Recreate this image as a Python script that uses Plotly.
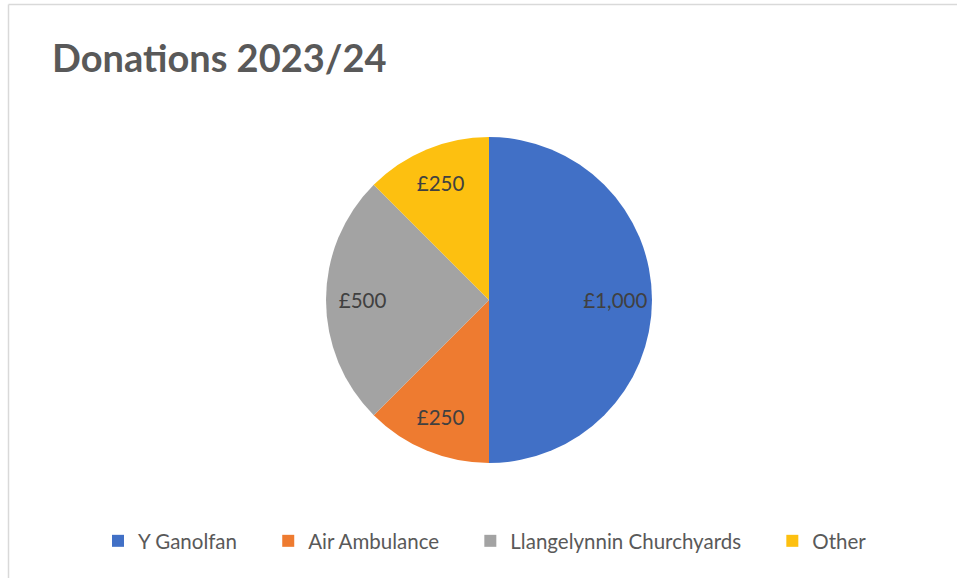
import plotly.graph_objects as go

categories = ["Y Ganolfan", "Air Ambulance", "Llangelynnin Churchyards", "Other"]
values = [1000, 250, 500, 250]
labels_text = ["£1,000", "£250", "£500", "£250"]
colors = ["#4170C6", "#EE7B30", "#A3A3A3", "#FDC010"]

W, H = 957, 578
cx, cy, r = 489, 300, 163
dom = dict(x=[(cx - r) / W, (cx + r) / W], y=[1 - (cy + r) / H, 1 - (cy - r) / H])

# legend labels with trailing padding to mimic Excel legend spacing
pad = "\u00a0" * 5
legend_labels = [c + pad for c in categories[:-1]] + [categories[-1]]

fig = go.Figure()
fig.add_trace(go.Pie(
    labels=legend_labels,
    values=values,
    customdata=categories,
    textinfo="none",
    sort=False,
    direction="clockwise",
    rotation=0,
    marker=dict(colors=colors, line=dict(width=0)),
    domain=dom,
    hovertemplate="%{customdata}: £%{value:,}<extra></extra>",
))
# text overlay: ring so labels sit at ~3/4 of the radius like Excel
fig.add_trace(go.Pie(
    labels=categories,
    values=values,
    text=labels_text,
    textinfo="text",
    textposition="inside",
    insidetextorientation="horizontal",
    hole=0.55,
    sort=False,
    direction="clockwise",
    rotation=0,
    showlegend=False,
    marker=dict(colors=["rgba(0,0,0,0)"] * len(values), line=dict(width=0)),
    textfont=dict(family="Lato", size=20.5, color="#404040"),
    domain=dom,
    hovertemplate="%{label}: £%{value:,}<extra></extra>",
))

fig.update_layout(
    width=W, height=H,
    margin=dict(l=0, r=0, t=0, b=0),
    paper_bgcolor="white",
    plot_bgcolor="white",
    title=dict(text="<b>Donations 2023/24</b>", x=52 / W, xanchor="left", y=1 - 59 / H, yanchor="middle",
               font=dict(family="Lato", size=38, color="#595959")),
    legend=dict(orientation="h", x=485 / W, xanchor="center", y=1 - 541 / H, yanchor="middle",
                font=dict(family="Lato", size=20.5, color="#595959"), itemwidth=30,
                traceorder="normal"),
    shapes=[
        dict(type="line", xref="paper", yref="paper", x0=8.5 / W, x1=1, y0=1 - 4.5 / H, y1=1 - 4.5 / H,
             line=dict(color="#D9D9D9", width=1.5)),
        dict(type="line", xref="paper", yref="paper", x0=8.5 / W, x1=8.5 / W, y0=0, y1=1 - 4.5 / H,
             line=dict(color="#D9D9D9", width=1.5)),
    ],
)

fig.write_html("out.html", config={"displayModeBar": False},
               post_script="document.body.style.margin='0px';")
